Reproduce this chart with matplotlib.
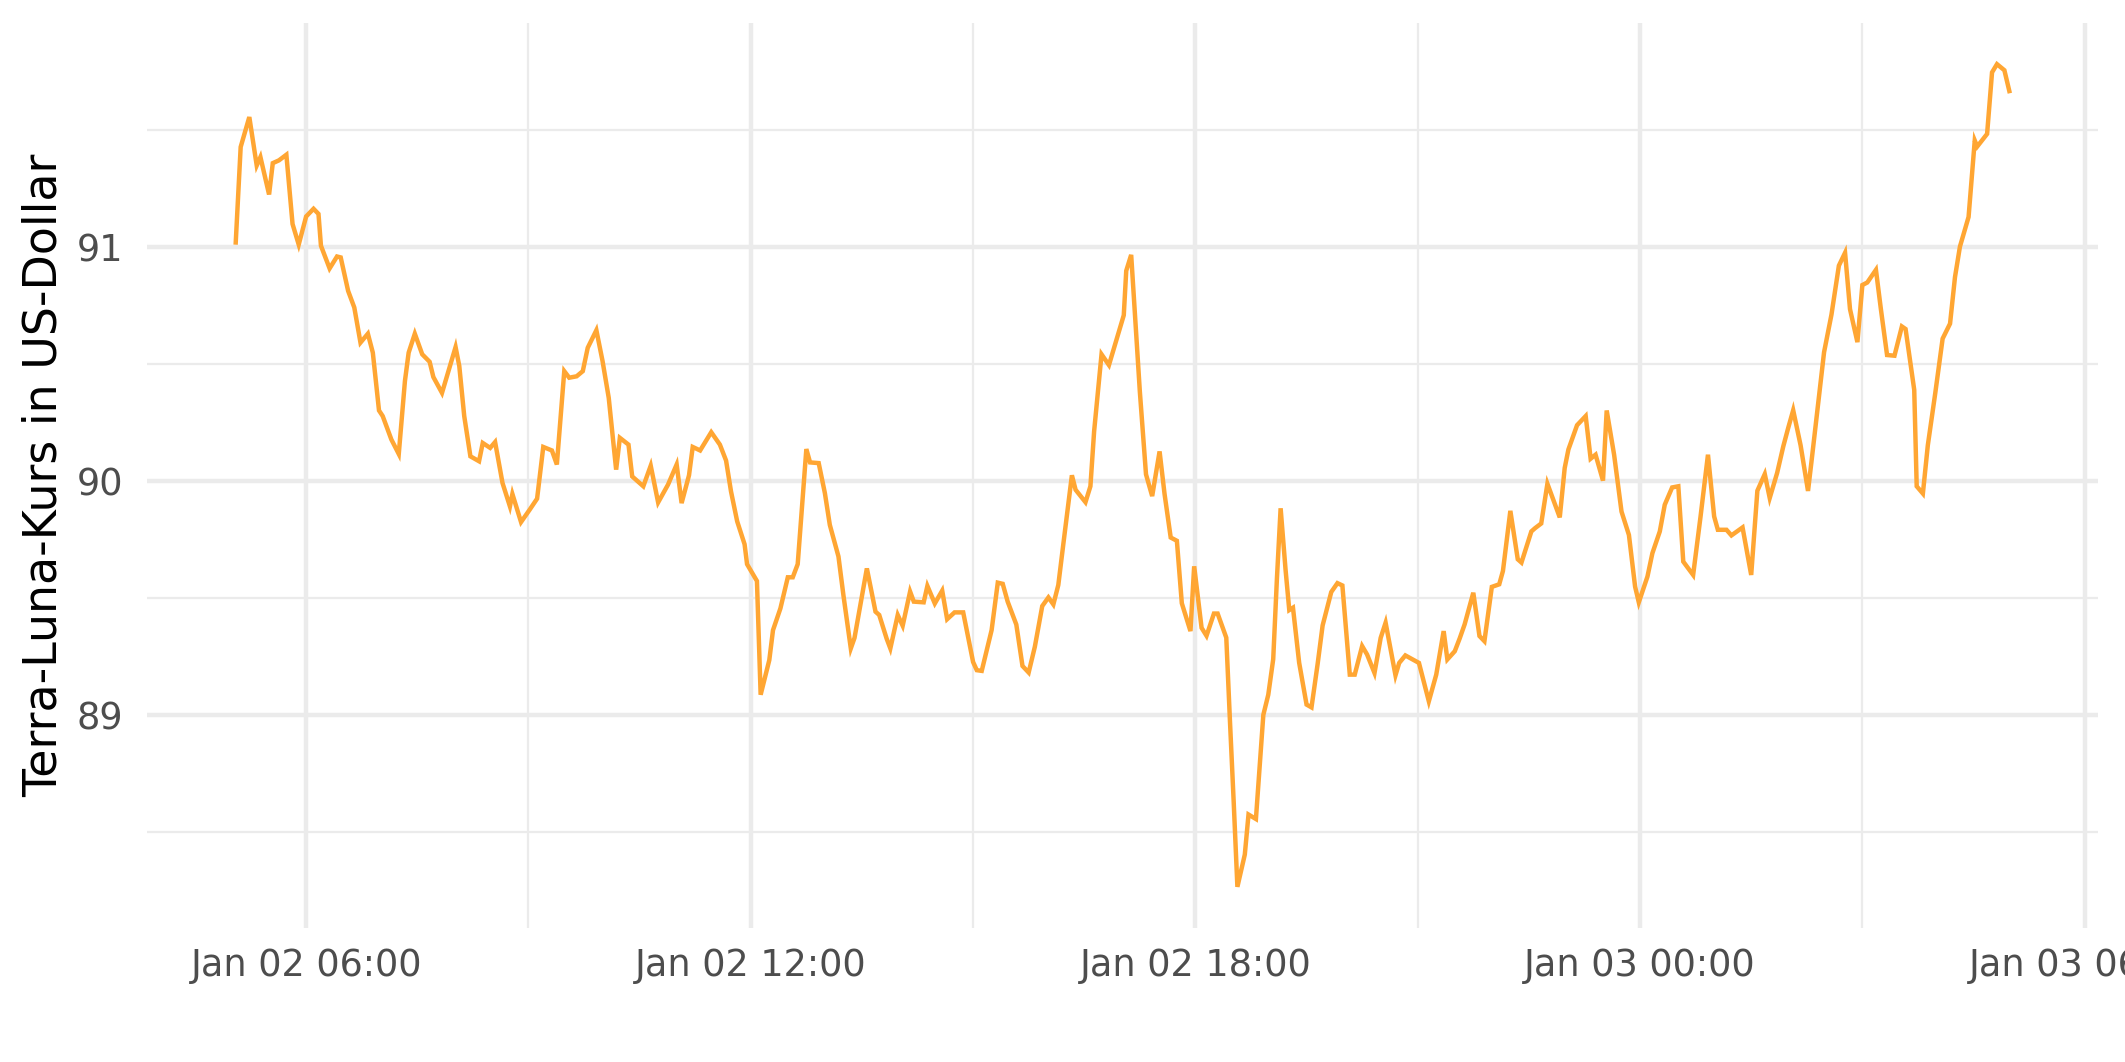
import matplotlib
matplotlib.use("Agg")
import matplotlib.pyplot as plt
import matplotlib.dates as mdates
import numpy as np
import pandas as pd

# Time stamps: minutes after 2022-01-02 05:00
minutes = [
    3, 7, 14, 20, 23, 30, 33, 38, 44, 49, 54, 60, 66, 70, 72, 79, 85, 88, 94, 99,
    104, 110, 114, 119, 122, 129, 135, 140, 143, 148, 154, 160, 163, 170, 181, 184, 188, 193, 200, 203,
    209, 213, 219, 225, 227, 234, 241, 247, 252, 259, 263, 269, 273, 279, 284, 288, 295, 300, 305, 311,
    314, 321, 324, 333, 339, 345, 353, 360, 364, 370, 373, 379, 388, 395, 400, 404, 409, 415, 417, 425,
    428, 435, 438, 444, 450, 454, 458, 465, 468, 475, 480, 484, 491, 495, 501, 504, 514, 521, 524, 530,
    533, 539, 543, 549, 552, 560, 563, 569, 575, 579, 585, 592, 600, 603, 607, 615, 620, 624, 628, 635,
    640, 645, 650, 656, 661, 665, 669, 673, 680, 683, 691, 695, 698, 704, 710, 722, 724, 728, 735, 740,
    745, 751, 755, 760, 765, 769, 776, 779, 785, 789, 795, 798, 805, 808, 811, 814, 820, 823, 829, 835,
    839, 843, 846, 849, 853, 856, 859, 864, 870, 874, 879, 883, 890, 895, 899, 905, 909, 915, 919, 925,
    930, 934, 942, 945, 950, 961, 969, 975, 981, 984, 990, 994, 998, 1005, 1010, 1014, 1020, 1026, 1029, 1035,
    1041, 1044, 1052, 1055, 1060, 1065, 1075, 1079, 1082, 1089, 1096, 1100, 1104, 1110, 1113, 1119, 1125, 1131, 1136, 1139,
    1146, 1150, 1156, 1160, 1166, 1171, 1175, 1183, 1189, 1195, 1200, 1203, 1210, 1214, 1223, 1230, 1235, 1241, 1245, 1251,
    1256, 1260, 1264, 1270, 1276, 1279, 1285, 1289, 1295, 1301, 1306, 1310, 1316, 1320, 1324, 1331, 1335, 1340, 1346, 1352,
    1355, 1362, 1364, 1369, 1373, 1379, 1385, 1391, 1395, 1399, 1406, 1411, 1413, 1421, 1425, 1429, 1435, 1439,
]

price_usd = [
    91.021, 91.429, 91.557, 91.350, 91.386, 91.226, 91.360, 91.372, 91.396, 91.100,
    91.012, 91.132, 91.165, 91.143, 91.007, 90.910, 90.961, 90.957, 90.814, 90.743,
    90.593, 90.631, 90.550, 90.303, 90.279, 90.179, 90.117, 90.429, 90.550, 90.631,
    90.543, 90.511, 90.446, 90.378, 90.574, 90.493, 90.279, 90.107, 90.086, 90.164,
    90.143, 90.168, 89.993, 89.893, 89.946, 89.826, 89.879, 89.926, 90.147, 90.132,
    90.072, 90.471, 90.443, 90.449, 90.471, 90.571, 90.646, 90.514, 90.357, 90.050,
    90.186, 90.157, 90.021, 89.979, 90.067, 89.910, 89.986, 90.072, 89.907, 90.026,
    90.147, 90.132, 90.210, 90.157, 90.089, 89.957, 89.829, 89.731, 89.646, 89.574,
    89.088, 89.236, 89.364, 89.457, 89.590, 89.590, 89.646, 90.138, 90.081, 90.078,
    89.950, 89.814, 89.679, 89.514, 89.286, 89.331, 89.628, 89.443, 89.429, 89.328,
    89.286, 89.429, 89.383, 89.529, 89.486, 89.483, 89.553, 89.478, 89.533, 89.411,
    89.440, 89.440, 89.228, 89.193, 89.190, 89.364, 89.567, 89.562, 89.486, 89.388,
    89.211, 89.183, 89.293, 89.467, 89.504, 89.474, 89.557, 89.729, 90.026, 89.964,
    89.911, 89.979, 90.214, 90.543, 90.497, 90.710, 90.900, 90.968, 90.385, 90.030,
    89.937, 90.128, 89.947, 89.760, 89.746, 89.479, 89.360, 89.637, 89.374, 89.340,
    89.435, 89.435, 89.332, 88.973, 88.630, 88.267, 88.405, 88.576, 88.557, 89.002,
    89.088, 89.240, 89.584, 89.885, 89.622, 89.450, 89.460, 89.225, 89.046, 89.034,
    89.221, 89.384, 89.527, 89.565, 89.555, 89.174, 89.174, 89.296, 89.260, 89.181,
    89.331, 89.396, 89.171, 89.224, 89.256, 89.224, 89.060, 89.174, 89.360, 89.239,
    89.274, 89.329, 89.389, 89.524, 89.339, 89.317, 89.549, 89.560, 89.617, 89.874,
    89.667, 89.653, 89.786, 89.800, 89.820, 89.990, 89.846, 90.057, 90.136, 90.240,
    90.279, 90.097, 90.114, 90.003, 90.303, 90.114, 89.871, 89.771, 89.550, 89.483,
    89.593, 89.693, 89.786, 89.900, 89.974, 89.979, 89.657, 89.600, 89.850, 90.114,
    89.850, 89.793, 89.793, 89.769, 89.803, 89.600, 89.960, 90.031, 89.929, 90.036,
    90.150, 90.229, 90.304, 90.154, 89.959, 90.093, 90.369, 90.552, 90.713, 90.922,
    90.977, 90.736, 90.595, 90.839, 90.850, 90.904, 90.736, 90.540, 90.537, 90.662,
    90.651, 90.391, 89.979, 89.948, 90.154, 90.376, 90.610, 90.674, 90.873, 91.003,
    91.130, 91.457, 91.431, 91.485, 91.748, 91.783, 91.757, 91.668,
]

start_time = "2022-01-02 05:00"
y_label = "Terra-Luna-Kurs in US-Dollar"
y_ticks = [89, 90, 91]
y_minor_ticks = [88.5, 89.5, 90.5, 91.5]

times = pd.Timestamp(start_time) + pd.to_timedelta(minutes, unit="min")
values = np.array(price_usd)

plt.rcParams["font.family"] = ["DejaVu Sans"]

fig = plt.figure(figsize=(2125 / 300, 1062 / 300), dpi=300)
ax = fig.add_axes([0.0692, 0.1262, 0.9181, 0.8521])

ax.plot(times, values, color="#FFA633", linewidth=1.07, solid_joinstyle="miter", zorder=3)

# ggplot-like 5% expansion
xnum = mdates.date2num(times.to_pydatetime())
xr = xnum.max() - xnum.min()
ax.set_xlim(xnum.min() - 0.05 * xr, xnum.max() + 0.05 * xr)
yr = values.max() - values.min()
ax.set_ylim(values.min() - 0.05 * yr, values.max() + 0.05 * yr)

ax.xaxis.set_major_locator(mdates.HourLocator(byhour=[0, 6, 12, 18]))
ax.xaxis.set_minor_locator(mdates.HourLocator(byhour=[3, 9, 15, 21]))
ax.xaxis.set_major_formatter(mdates.DateFormatter("%b %d %H:%M"))
ax.set_yticks(y_ticks)
ax.set_yticks(y_minor_ticks, minor=True)
ax.set_yticklabels([str(t) for t in y_ticks])

ax.grid(True, which="major", color="#EBEBEB", linewidth=1.07, zorder=0)
ax.grid(True, which="minor", color="#EBEBEB", linewidth=0.53, zorder=0)
ax.set_axisbelow(True)
for s in ax.spines.values():
    s.set_visible(False)

ax.tick_params(axis="both", which="both", length=0)
ax.tick_params(axis="x", which="major", labelsize=8.8, labelcolor="#4D4D4D", pad=4.5)
ax.tick_params(axis="y", which="major", labelsize=8.8, labelcolor="#4D4D4D", pad=5.8)

ax.set_ylabel(y_label, fontsize=11, color="black")
ax.yaxis.set_label_coords(-0.041, 0.5)

fig.savefig("out.png", dpi=300, facecolor="white")
